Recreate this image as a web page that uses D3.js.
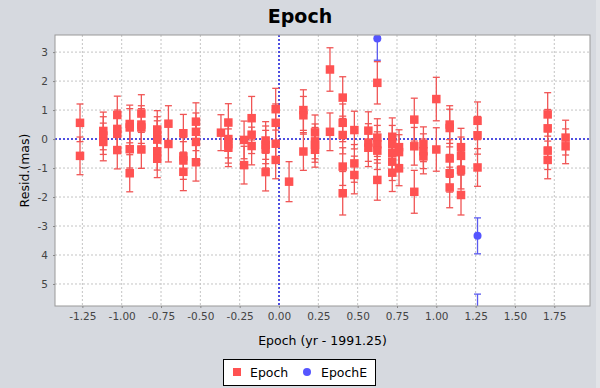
<!DOCTYPE html>
<html><head><meta charset="utf-8">
<script src="https://cdn.jsdelivr.net/npm/d3@7"></script>
<style>
html,body{margin:0;padding:0;background:#d6d9df;}
svg{display:block;font-family:"DejaVu Sans",sans-serif;}
</style></head>
<body>
<script>
const epochX = [
 -1.265,-1.265,
 -1.117,-1.117,-1.117,
 -1.028,-1.028,-1.028,-1.028,
 -0.949,-0.949,-0.949,-0.949,
 -0.875,-0.875,-0.875,-0.875,
 -0.774,-0.774,-0.774,-0.774,-0.774,
 -0.703,-0.703,
 -0.608,-0.608,-0.608,-0.608,
 -0.528,-0.528,-0.528,-0.528,
 -0.369,
 -0.322,-0.322,-0.322,-0.322,
 -0.222,-0.222,
 -0.174,-0.174,-0.174,
 -0.085,-0.085,-0.085,-0.085,
 -0.021,-0.021,-0.021,-0.021,
 0.064,
 0.155,0.155,0.155,
 0.229,0.229,0.229,0.229,
 0.324,0.324,
 0.405,0.405,0.405,0.405,0.405,
 0.479,0.479,0.479,
 0.568,0.568,0.568,
 0.625,0.625,0.625,0.625,0.625,
 0.720,0.720,0.720,0.720,0.720,
 0.763,0.763,0.763,
 0.860,0.860,0.860,
 0.918,0.918,0.918,
 1.000,1.000,
 1.085,1.085,1.085,1.085,1.085,
 1.157,1.157,1.157,1.157,
 1.262,1.262,1.262,
 1.708,1.708,1.708,1.708,
 1.822,1.822
];
const epochY = [
 0.56,-0.58,
 0.28,0.12,-0.10,
 0.83,0.35,0.18,-0.38,
 0.52,0.40,-0.35,-1.18,
 0.88,0.50,0.40,-0.36,
 0.33,0.12,-0.02,-0.42,-0.68,
 0.53,-0.17,
 0.20,-0.60,-0.74,-1.13,
 0.60,0.25,-0.10,-0.80,
 0.22,
 0.57,0.00,-0.18,-0.30,
 -0.03,-0.90,
 0.72,0.15,-0.24,
 -0.05,-0.20,-0.35,-1.14,
 1.03,0.56,-0.16,-0.72,
 -1.47,
 1.00,0.82,-0.43,
 0.23,-0.08,-0.20,-0.37,
 2.40,0.25,
 1.43,0.56,0.14,-0.95,-1.87,
 0.31,-0.84,-1.24,
 0.29,-0.12,-0.30,
 1.94,0.05,-0.18,-0.40,-1.41,
 0.08,-0.18,-0.48,-0.78,-1.16,
 -0.28,-0.45,-1.01,
 0.67,-0.25,-1.82,
 -0.18,-0.42,-0.60,
 1.38,-0.36,
 0.50,0.38,-0.67,-1.18,-1.67,
 -0.28,-0.58,-1.07,-1.93,
 0.63,0.13,-0.98,
 0.85,0.37,-0.40,-0.72,
 0.05,-0.25
];
const epochErr = [
 0.65,0.65,
 0.65,0.65,0.65,
 0.65,0.65,0.65,0.65,
 0.65,0.65,0.65,0.64,
 0.65,0.65,0.65,0.65,
 0.65,0.65,0.65,0.65,0.65,
 0.62,0.62,
 0.65,0.65,0.65,0.65,
 0.65,0.65,0.65,0.65,
 0.62,
 0.65,0.65,0.65,0.65,
 0.65,0.65,
 0.75,0.65,0.65,
 0.65,0.65,0.65,0.65,
 0.72,0.65,0.65,0.65,
 0.69,
 0.70,0.65,0.65,
 0.60,0.60,0.60,0.60,
 0.75,0.65,
 0.72,0.65,0.65,0.65,0.75,
 0.65,0.65,0.65,
 0.65,0.65,0.65,
 0.73,0.65,0.65,0.65,0.70,
 0.65,0.65,0.65,0.65,0.65,
 0.60,0.60,0.60,
 0.74,0.65,0.74,
 0.60,0.60,0.60,
 0.75,0.75,
 0.65,0.65,0.65,0.65,0.70,
 0.65,0.65,0.65,0.69,
 0.65,0.65,0.65,
 0.75,0.65,0.65,0.65,
 0.60,0.60
];
const epochEX = [0.625, 1.262, 1.262];
const epochEY = [3.47, -3.34, -6.0];
const epochEErr = [0.75, 0.62, 0.65];

const xTicks = [-1.25,-1.0,-0.75,-0.5,-0.25,0,0.25,0.5,0.75,1.0,1.25,1.5,1.75];
const xTickLabels = ["-1.25","-1.00","-0.75","-0.50","-0.25","0.00","0.25","0.50","0.75","1.00","1.25","1.50","1.75"];
const yTicks = [3,2,1,0,-1,-2,-3,-4,-5];
const yTickLabels = ["3","2","1","0","-1","-2","-3","4","5"];
const xDomain = [-1.424, 1.977];
const yDomain = [-5.76, 3.59];
const seriesNames = ["Epoch","EpochE"];
const titleText = "Epoch";
const xLabel = "Epoch (yr - 1991.25)";
const yLabel = "Resid.(mas)";

const W = 600, H = 388;
const L = 55, R = 590, T = 35, B = 306;
const red = "#ff5252", blue = "#5555ff";

const svg = d3.select("body").append("svg").attr("width", W).attr("height", H);
svg.append("rect").attr("width", W).attr("height", H).attr("fill", "#d6d9df");
svg.append("rect").attr("x", 596).attr("y", 0).attr("width", 4).attr("height", H).attr("fill", "#e1e3e7");

const x = d3.scaleLinear().domain(xDomain).range([L, R]);
const y = d3.scaleLinear().domain(yDomain).range([B, T]);

svg.append("text").attr("x", 300).attr("y", 23).attr("text-anchor", "middle")
  .attr("font-size", 19).attr("font-weight", "bold").attr("fill", "#000").text(titleText);

svg.append("rect").attr("x", L).attr("y", T).attr("width", R - L).attr("height", B - T).attr("fill", "#fff");

const defs = svg.append("defs");
defs.append("clipPath").attr("id", "clip").append("rect")
  .attr("x", L).attr("y", T).attr("width", R - L).attr("height", B - T);

const grid = svg.append("g");
grid.selectAll("line.vx").data(xTicks).join("line")
  .attr("x1", d => x(d)).attr("x2", d => x(d)).attr("y1", T).attr("y2", B)
  .attr("stroke", "#c4c4c4").attr("stroke-width", 1).attr("stroke-dasharray", "2,2");
grid.selectAll("line.hy").data(yTicks).join("line")
  .attr("class","hy")
  .attr("y1", d => y(d)).attr("y2", d => y(d)).attr("x1", L).attr("x2", R)
  .attr("stroke", "#c4c4c4").attr("stroke-width", 1).attr("stroke-dasharray", "2,2");

// zero lines
svg.append("line").attr("x1", x(0)).attr("x2", x(0)).attr("y1", T).attr("y2", B)
  .attr("stroke", "#1f1fe0").attr("stroke-width", 1.5).attr("stroke-dasharray", "2,2");
svg.append("line").attr("x1", L).attr("x2", R).attr("y1", y(0)).attr("y2", y(0))
  .attr("stroke", "#1f1fe0").attr("stroke-width", 1.5).attr("stroke-dasharray", "2,2");

const plot = svg.append("g").attr("clip-path", "url(#clip)");

function errorBars(g, xs, ys, es, color) {
  const data = xs.map((v, i) => ({x: v, y: ys[i], e: es[i]}));
  const cw = 3.5;
  const eg = g.append("g").attr("stroke", color).attr("stroke-width", 1.3);
  eg.selectAll("line.v").data(data).join("line")
    .attr("x1", d => x(d.x)).attr("x2", d => x(d.x))
    .attr("y1", d => y(d.y + d.e)).attr("y2", d => y(d.y - d.e));
  eg.selectAll("line.t").data(data).join("line").attr("class","t")
    .attr("x1", d => x(d.x) - cw).attr("x2", d => x(d.x) + cw)
    .attr("y1", d => y(d.y + d.e)).attr("y2", d => y(d.y + d.e));
  eg.selectAll("line.b").data(data).join("line").attr("class","b")
    .attr("x1", d => x(d.x) - cw).attr("x2", d => x(d.x) + cw)
    .attr("y1", d => y(d.y - d.e)).attr("y2", d => y(d.y - d.e));
  return data;
}

const ed = errorBars(plot, epochX, epochY, epochErr, "#f05555");
const eed = errorBars(plot, epochEX, epochEY, epochEErr, "#5a5aef");

const sq = 8.5;
plot.append("g").selectAll("rect").data(ed).join("rect")
  .attr("x", d => x(d.x) - sq/2).attr("y", d => y(d.y) - sq/2)
  .attr("width", sq).attr("height", sq).attr("fill", red);
plot.append("g").selectAll("circle").data(eed).join("circle")
  .attr("cx", d => x(d.x)).attr("cy", d => y(d.y)).attr("r", 4).attr("fill", blue);

// outline
svg.append("rect").attr("x", L).attr("y", T).attr("width", R - L).attr("height", B - T)
  .attr("fill", "none").attr("stroke", "#999").attr("stroke-width", 1);

// axes
const xAxis = d3.axisBottom(x).tickValues(xTicks).tickFormat((d, i) => xTickLabels[i]).tickSize(2).tickPadding(5);
const gx = svg.append("g").attr("transform", `translate(0,${B})`).call(xAxis);
gx.select(".domain").remove();
gx.selectAll("line").attr("stroke", "#888");
gx.selectAll("text").attr("font-size", 10.5).attr("fill", "#444").attr("font-family", "DejaVu Sans, sans-serif");

const yAxis = d3.axisLeft(y).tickValues(yTicks).tickFormat((d, i) => yTickLabels[i]).tickSize(2).tickPadding(5);
const gy = svg.append("g").attr("transform", `translate(${L},0)`).call(yAxis);
gy.select(".domain").remove();
gy.selectAll("line").attr("stroke", "#888");
gy.selectAll("text").attr("font-size", 10.5).attr("fill", "#444").attr("font-family", "DejaVu Sans, sans-serif");

svg.append("text").attr("x", (L + R) / 2 + 0).attr("y", 345).attr("text-anchor", "middle")
  .attr("font-size", 12.5).attr("fill", "#000").text(xLabel);
svg.append("text").attr("transform", `translate(29,${(T + B) / 2}) rotate(-90)`).attr("text-anchor", "middle")
  .attr("font-size", 12.5).attr("fill", "#000").text(yLabel);

// legend
const lg = svg.append("g");
lg.append("rect").attr("x", 223.5).attr("y", 359.5).attr("width", 152).attr("height", 26)
  .attr("fill", "#fff").attr("stroke", "#000").attr("stroke-width", 1);
lg.append("rect").attr("x", 233).attr("y", 368).attr("width", 8).attr("height", 8).attr("fill", red);
lg.append("text").attr("x", 250).attr("y", 377).attr("font-size", 12.5).attr("fill", "#000").text(seriesNames[0]);
lg.append("circle").attr("cx", 307).attr("cy", 372).attr("r", 4).attr("fill", blue);
lg.append("text").attr("x", 321).attr("y", 377).attr("font-size", 12.5).attr("fill", "#000").text(seriesNames[1]);
</script>
</body></html>
